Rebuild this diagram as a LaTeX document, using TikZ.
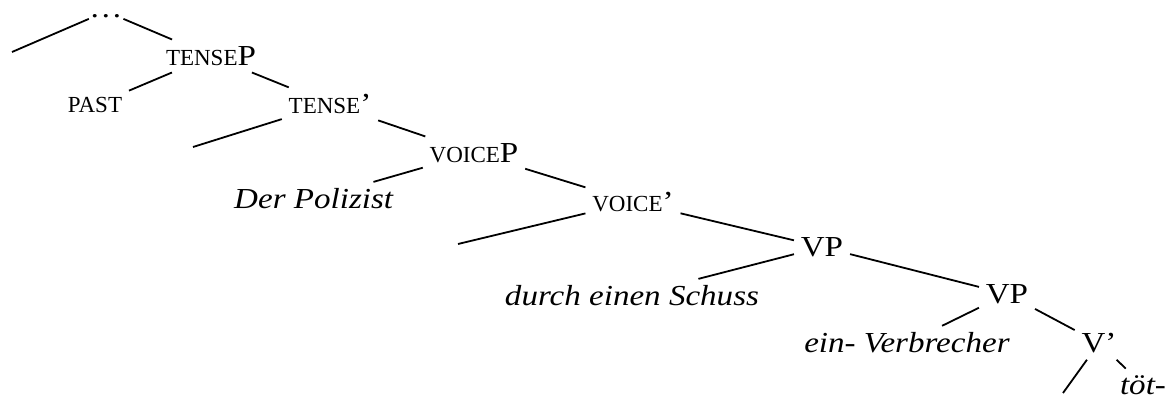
\documentclass[tikz,border=0pt]{standalone}
\usepackage{fontspec}
\setmainfont{Liberation Serif}[FakeStretch=1.14]
\newfontfamily\scfont{Liberation Serif}
\newcommand{\smc}[1]{{\fontsize{11.5pt}{13pt}\scfont #1}}
\usetikzlibrary{positioning}

\begin{document}
\begin{tikzpicture}[x=0.5pt, y=-0.5pt, line width=0.9pt, font=\fontsize{14.5pt}{17pt}\selectfont, every node/.style={inner sep=3pt}]
    \useasboundingbox (0,0) rectangle (1168,401);
    \node[anchor=base, text height=6.5pt, text depth=0pt, inner ysep=0pt] (top) at (106,18) {\dots};
    \node (tenseP) at (211,56) {\smc{TENSE}P};
    \node (past) at (95,105) {\smc{PAST}};
    \node (tenseBar) at (330,104) {\smc{TENSE}'};
    \node (voiceP) at (474,153) {\smc{VOICE}P};
    \node (polizist) at (314,199) {\textit{Der Polizist}};
    \node (voiceBar) at (633,202) {\smc{VOICE}'};
    \node (vpA) at (822,247) {VP};
    \node (schuss) at (632,296) {\textit{durch einen Schuss}};
    \node (vpB) at (1007,294) {VP};
    \node (verbrecher) at (907,343) {\textit{ein- Verbrecher}};
    \node (vBar) at (1099,343) {V'};
    \node (toet) at (1143,385) {\textit{töt-}};

    \coordinate (gapA) at (12,52);
    \coordinate (gapB) at (193,147);
    \coordinate (gapC) at (458,244);
    \coordinate (gapD) at (1063,393);

    \draw (top) -- (gapA);
    \draw (top) -- (tenseP);
    \draw (tenseP) -- (past);
    \draw (tenseP) -- (tenseBar);
    \draw (tenseBar) -- (gapB);
    \draw (tenseBar) -- (voiceP);
    \draw (voiceP) -- (polizist);
    \draw (voiceP) -- (voiceBar);
    \draw (voiceBar) -- (gapC);
    \draw (voiceBar) -- (vpA);
    \draw (vpA) -- (schuss);
    \draw (vpA) -- (vpB);
    \draw (vpB) -- (verbrecher);
    \draw (vpB) -- (vBar);
    \draw (vBar) -- (gapD);
    \draw (vBar) -- (toet);
\end{tikzpicture}
\end{document}
